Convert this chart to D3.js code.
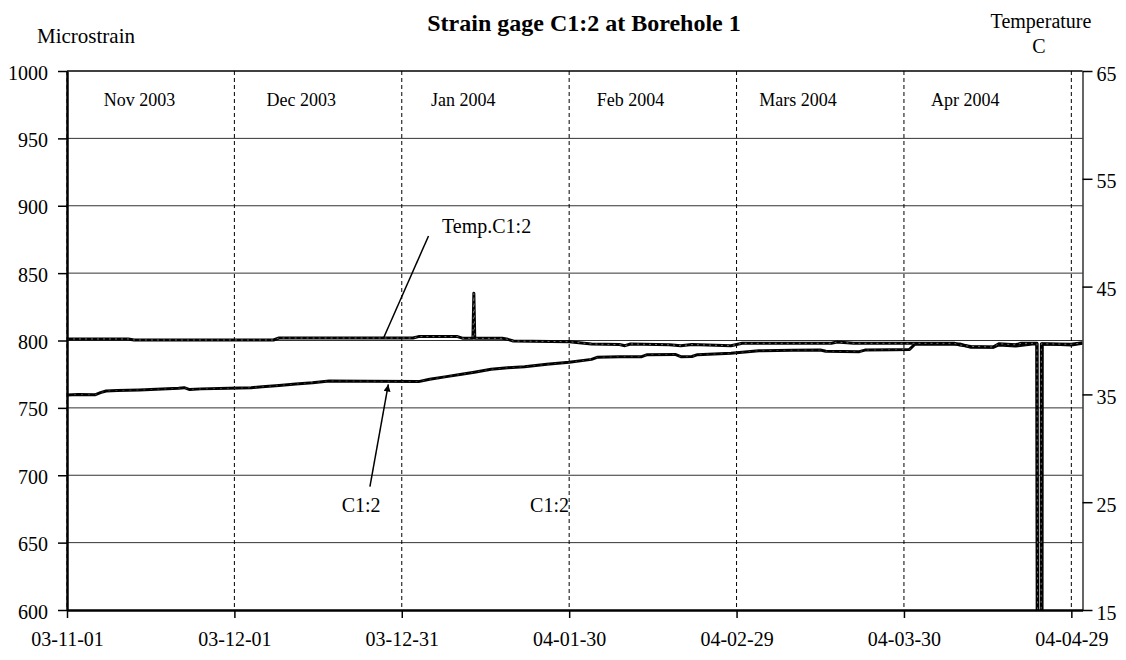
<!DOCTYPE html>
<html>
<head>
<meta charset="utf-8">
<script src="https://cdn.jsdelivr.net/npm/d3@7"></script>
<style>
  body { margin: 0; background: #fff; }
  svg { display: block; }
  text { font-family: "Liberation Serif", "Times New Roman", Times, serif; fill: #000; }
</style>
</head>
<body>
<svg id="chart" width="1126" height="660"></svg>
<script>
// ---- chart text ----
const chartTitle = "Strain gage C1:2 at Borehole 1";
const leftAxisTitle = "Microstrain";
const rightAxisTitle = ["Temperature", "C"];

// ---- axes ----
const strainTicks = [600, 650, 700, 750, 800, 850, 900, 950, 1000];
const tempTicks = [15, 25, 35, 45, 55, 65];
const dateTicks = ["2003-11-01", "2003-12-01", "2003-12-31", "2004-01-30", "2004-02-29", "2004-03-30", "2004-04-29"];
const dateRange = ["2003-11-01", "2004-05-01"];
const monthLabels = ["Nov 2003", "Dec 2003", "Jan 2004", "Feb 2004", "Mars 2004", "Apr 2004"];
const monthLabelDates = ["2003-11-14", "2003-12-13", "2004-01-11", "2004-02-10", "2004-03-11", "2004-04-10"];

// ---- strain gage C1:2, microstrain ----
const strainC12 = [
  ["2003-11-01", 759.6], ["2003-11-03", 759.9], ["2003-11-06", 759.7], ["2003-11-07", 761.3],
  ["2003-11-08", 762.5], ["2003-11-10", 762.9], ["2003-11-14", 763.3], ["2003-11-17", 763.8],
  ["2003-11-21", 764.5], ["2003-11-22", 765.0], ["2003-11-23", 763.6], ["2003-11-25", 764.1],
  ["2003-11-30", 764.5], ["2003-12-04", 765.0], ["2003-12-06", 765.7], ["2003-12-09", 766.6],
  ["2003-12-12", 767.7], ["2003-12-15", 768.7], ["2003-12-18", 770.0], ["2003-12-25", 769.8],
  ["2004-01-03", 769.5], ["2004-01-05", 771.2], ["2004-01-08", 773.2], ["2004-01-11", 775.1],
  ["2004-01-13", 776.5], ["2004-01-16", 778.6], ["2004-01-19", 779.8], ["2004-01-22", 780.6],
  ["2004-01-26", 782.3], ["2004-01-30", 783.8], ["2004-02-03", 786.0], ["2004-02-04", 787.5],
  ["2004-02-08", 788.0], ["2004-02-12", 788.0], ["2004-02-13", 789.5], ["2004-02-18", 789.7],
  ["2004-02-19", 788.0], ["2004-02-21", 788.1], ["2004-02-22", 789.5], ["2004-02-28", 790.5],
  ["2004-03-02", 791.7], ["2004-03-04", 792.4], ["2004-03-10", 792.8], ["2004-03-15", 792.9],
  ["2004-03-16", 792.0], ["2004-03-22", 791.7], ["2004-03-23", 792.9], ["2004-03-28", 793.2],
  ["2004-03-31", 793.4], ["2004-04-01", 797.4], ["2004-04-05", 797.2], ["2004-04-09", 797.4],
  ["2004-04-11", 795.0], ["2004-04-15", 795.0], ["2004-04-16", 796.7], ["2004-04-19", 795.9],
  ["2004-04-22 00", 797.4], ["2004-04-22 20", 797.4], ["2004-04-22 21", 590.0],
  ["2004-04-23 18", 590.0], ["2004-04-23 19", 797.4], ["2004-04-27", 797.0],
  ["2004-04-29", 796.7], ["2004-05-01", 797.9]
];

// ---- temperature at C1:2, degrees C ----
const tempC12 = [
  ["2003-11-01", 40.14], ["2003-11-12", 40.14], ["2003-11-13", 40.05], ["2003-12-08", 40.05],
  ["2003-12-09", 40.23], ["2004-01-02", 40.23], ["2004-01-03", 40.36], ["2004-01-10", 40.36],
  ["2004-01-11", 40.20], ["2004-01-12 18", 40.20], ["2004-01-12 22", 44.38], ["2004-01-13 02", 40.20],
  ["2004-01-18", 40.20], ["2004-01-19", 40.11], ["2004-01-20", 39.95], ["2004-01-30", 39.89],
  ["2004-02-03", 39.68], ["2004-02-08", 39.62], ["2004-02-09", 39.52], ["2004-02-10", 39.68],
  ["2004-02-17", 39.60], ["2004-02-19", 39.52], ["2004-02-21", 39.62], ["2004-02-28", 39.52],
  ["2004-03-01", 39.74], ["2004-03-17", 39.74], ["2004-03-18", 39.86], ["2004-03-21", 39.74],
  ["2004-04-08", 39.74], ["2004-04-09", 39.58], ["2004-04-11", 39.45], ["2004-04-15", 39.40],
  ["2004-04-16", 39.70], ["2004-04-19", 39.60], ["2004-04-20", 39.74], ["2004-04-22 20", 39.74],
  ["2004-04-22 23", 12.0], ["2004-04-23 14", 12.0], ["2004-04-23 15", 39.70],
  ["2004-04-29", 39.65], ["2004-05-01", 39.80]
];

// ---- callouts (date, microstrain) ----
const tempCallout = { text: "Temp.C1:2", at: ["2004-01-07 05", 879.8], from: ["2004-01-04 19", 877.6], to: ["2003-12-27 19", 802.4] };
const strainCallout = { text: "C1:2", at: ["2003-12-23 17", 673.0], from: ["2003-12-25 07", 691.5], to: ["2003-12-28 14", 767.4] };
const strainLabel2 = { text: "C1:2", at: ["2004-01-23", 672.7] };

// ---- layout ----
const svg = d3.select("#chart");
const plot = { left: 67, top: 71, right: 1082.5, bottom: 610 };

const parseDay = d3.utcParse("%Y-%m-%d");
const parseHour = d3.utcParse("%Y-%m-%d %H");
const parseDate = s => (s.length > 10 ? parseHour(s) : parseDay(s));

const x = d3.scaleUtc().domain(dateRange.map(parseDate)).range([plot.left, plot.right]);
const yL = d3.scaleLinear().domain([600, 1000]).range([plot.bottom, plot.top]);
const yR = d3.scaleLinear().domain([15, 65]).range([plot.bottom, plot.top]);

// horizontal gridlines
svg.append("g").selectAll("line")
  .data(strainTicks.filter(v => v > 600))
  .join("line")
  .attr("x1", plot.left).attr("x2", plot.right)
  .attr("y1", d => yL(d)).attr("y2", d => yL(d))
  .attr("stroke", d => d === 1000 ? "#000" : "#333")
  .attr("stroke-width", d => d === 1000 ? 1.5 : 1);

// dashed month dividers
svg.append("g").selectAll("line")
  .data(dateTicks.map(parseDate))
  .join("line")
  .attr("x1", d => x(d)).attr("x2", d => x(d))
  .attr("y1", plot.top).attr("y2", plot.bottom)
  .attr("stroke", "#000").attr("stroke-width", 1)
  .attr("stroke-dasharray", "4,3");

// month names
svg.append("g").selectAll("text")
  .data(monthLabels)
  .join("text")
  .attr("x", (d, i) => x(parseDate(monthLabelDates[i])))
  .attr("y", 106)
  .attr("text-anchor", "middle")
  .attr("font-size", 18)
  .text(d => d);

// series
svg.append("clipPath").attr("id", "plotClip")
  .append("rect")
  .attr("x", plot.left).attr("y", plot.top)
  .attr("width", plot.right - plot.left).attr("height", plot.bottom - plot.top);

const strainData = strainC12.map(([d, v]) => ({ date: parseDate(d), value: v }));
const tempData = tempC12.map(([d, v]) => ({ date: parseDate(d), value: v }));

const strainLine = d3.line().x(d => x(d.date)).y(d => yL(d.value));
const tempLine = d3.line().x(d => x(d.date)).y(d => yR(d.value));

const series = svg.append("g").attr("clip-path", "url(#plotClip)");
series.append("path").datum(strainData)
  .attr("d", strainLine).attr("fill", "none")
  .attr("stroke", "#000").attr("stroke-width", 3).attr("stroke-linejoin", "round");
series.append("path").datum(strainData)
  .attr("d", strainLine).attr("fill", "none")
  .attr("stroke", "#fff").attr("stroke-width", 0.6).attr("stroke-opacity", 0.4)
  .attr("stroke-dasharray", "2,5");
series.append("path").datum(tempData)
  .attr("d", tempLine).attr("fill", "none")
  .attr("stroke", "#000").attr("stroke-width", 3).attr("stroke-linejoin", "round");
series.append("path").datum(tempData)
  .attr("d", tempLine).attr("fill", "none")
  .attr("stroke", "#fff").attr("stroke-width", 0.8).attr("stroke-opacity", 0.55)
  .attr("stroke-dasharray", "2,4");

// axes
const leftAxis = svg.append("g")
  .attr("transform", `translate(${plot.left},0)`)
  .call(d3.axisLeft(yL).tickValues(strainTicks).tickFormat(d3.format("d"))
    .tickSize(9).tickSizeOuter(0).tickPadding(10));
leftAxis.select(".domain").attr("stroke-width", 2.5);

const bottomAxis = svg.append("g")
  .attr("transform", `translate(0,${plot.bottom})`)
  .call(d3.axisBottom(x).tickValues(dateTicks.map(parseDate))
    .tickFormat(d3.utcFormat("%y-%m-%d")).tickSize(8).tickSizeOuter(0).tickPadding(14));
bottomAxis.select(".domain").attr("stroke-width", 2.5);

const rightAxis = svg.append("g")
  .attr("transform", `translate(${plot.right},0)`)
  .call(d3.axisRight(yR).tickValues(tempTicks).tickFormat(d3.format("d"))
    .tickSize(10).tickSizeOuter(0).tickPadding(4));
rightAxis.select(".domain").attr("stroke-width", 1.2);

[leftAxis, bottomAxis, rightAxis].forEach(g => {
  g.attr("font-family", null);
  g.selectAll("text").attr("font-size", 20).style("fill", "#000");
  g.selectAll(".tick line").attr("stroke-width", 1.5);
});
leftAxis.selectAll("text").attr("dy", "0.4em");
rightAxis.selectAll("text").attr("dy", "0.45em");

// titles
svg.append("text").attr("x", 584).attr("y", 30.5)
  .attr("text-anchor", "middle").attr("font-size", 24).attr("font-weight", "bold")
  .text(chartTitle);
svg.append("text").attr("x", 37).attr("y", 43).attr("font-size", 21).text(leftAxisTitle);
svg.append("text").attr("x", 1041).attr("y", 28).attr("text-anchor", "middle").attr("font-size", 20).text(rightAxisTitle[0]);
svg.append("text").attr("x", 1039).attr("y", 53).attr("text-anchor", "middle").attr("font-size", 20).text(rightAxisTitle[1]);

// callouts
const pt = ([d, v]) => [x(parseDate(d)), yL(v)];

svg.append("defs").append("marker")
  .attr("id", "arrowHead")
  .attr("viewBox", "0 0 10 10").attr("refX", 10).attr("refY", 5)
  .attr("markerWidth", 9).attr("markerHeight", 7).attr("markerUnits", "userSpaceOnUse")
  .attr("orient", "auto")
  .append("path").attr("d", "M0,0 L10,5 L0,10 Z").attr("fill", "#000");

const [tf, tt] = [pt(tempCallout.from), pt(tempCallout.to)];
svg.append("line").attr("x1", tf[0]).attr("y1", tf[1]).attr("x2", tt[0]).attr("y2", tt[1])
  .attr("stroke", "#000").attr("stroke-width", 1.5);
svg.append("text").attr("x", pt(tempCallout.at)[0]).attr("y", pt(tempCallout.at)[1])
  .attr("font-size", 20).text(tempCallout.text);

const [sf, st] = [pt(strainCallout.from), pt(strainCallout.to)];
svg.append("line").attr("x1", sf[0]).attr("y1", sf[1]).attr("x2", st[0]).attr("y2", st[1])
  .attr("stroke", "#000").attr("stroke-width", 1.5).attr("marker-end", "url(#arrowHead)");
svg.append("text").attr("x", pt(strainCallout.at)[0]).attr("y", pt(strainCallout.at)[1])
  .attr("text-anchor", "middle").attr("font-size", 20).text(strainCallout.text);

svg.append("text").attr("x", pt(strainLabel2.at)[0]).attr("y", pt(strainLabel2.at)[1])
  .attr("font-size", 20).text(strainLabel2.text);
</script>
</body>
</html>
